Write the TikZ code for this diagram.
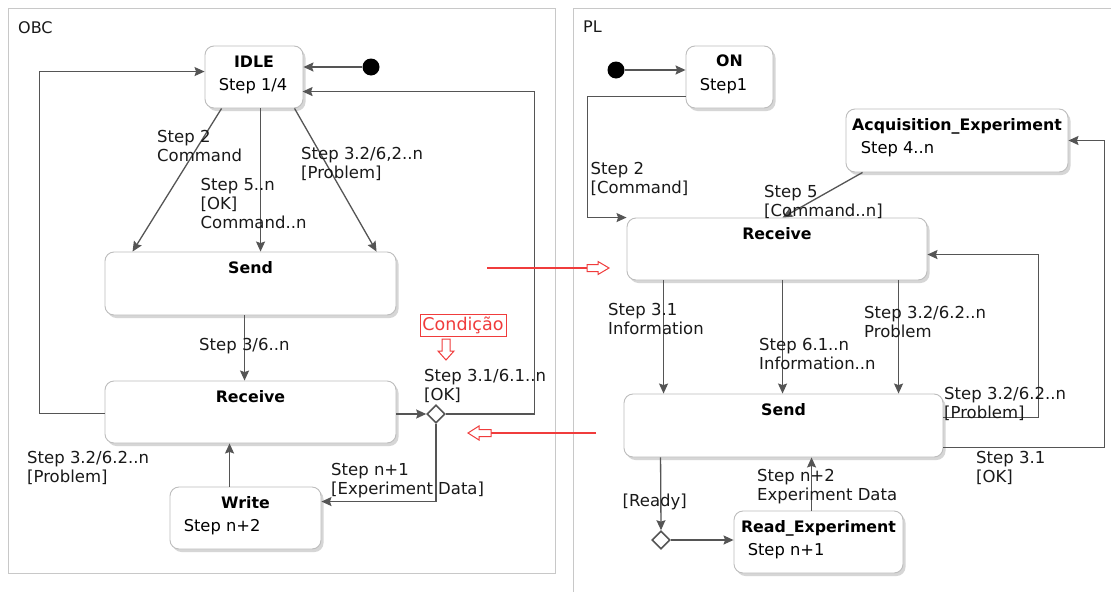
\documentclass[tikz,border=0pt]{standalone}
\usepackage{fontspec}
\setmainfont{DejaVu Sans}
\usetikzlibrary{arrows.meta,shapes.geometric,shadows,calc}
\definecolor{ln}{HTML}{555555}
\definecolor{bd}{HTML}{BDBDBD}
\definecolor{pn}{HTML}{C8C8C8}
\definecolor{rd}{HTML}{F03C3C}
\begin{document}
\begin{tikzpicture}[x=1pt,y=-1pt,
 state/.style={draw=bd, line width=0.9pt, fill=white, rounded corners=9pt,
   drop shadow={shadow xshift=2.5pt, shadow yshift=-3pt, fill=black!40, opacity=0.4}, inner sep=0},
 ttl/.style={anchor=north, inner sep=0, font=\fontsize{15.8}{19}\selectfont\bfseries},
 dsc/.style={anchor=north west, inner sep=0, font=\fontsize{16.3}{19}\selectfont},
 lbl/.style={anchor=north west, inner sep=0, align=left, font=\fontsize{16.5}{18.8}\selectfont, text=black!90},
 arr/.style={draw=ln, line width=1.3pt, -{Stealth[length=10pt,width=9pt,inset=1.5pt]}},
 choice/.style={diamond, draw=ln, line width=1.6pt, fill=white, minimum width=18pt, minimum height=18pt, inner sep=0},
 init/.style={circle, fill=black, minimum size=17pt, inner sep=0},
 panel/.style={draw=pn, line width=1pt},
 hollow/.style={draw=rd, line width=1pt, fill=white},
 redln/.style={draw=rd, line width=1.5pt}]
\useasboundingbox (0,0) rectangle (1111,592);
\fill[white] (0,0) rectangle (1111,592);

% panels
\draw[panel] (8,8) rectangle (555,573);
\draw[panel] (1111,8) -- (573,8) -- (573,592);
\node[lbl, font=\fontsize{16}{19}\selectfont] (obc) at (18,21) {OBC};
\node[lbl, font=\fontsize{16}{19}\selectfont] (pl) at (583,21) {PL};

% ---- OBC states
\node[state, minimum width=98pt, minimum height=62pt] (idle) at (254,77) {};
\node[ttl] (idlet) at ($(idle.north)+(0,10)$) {IDLE};
\node[dsc] (idled) at ($(idle.north west)+(14,32.5)$) {Step 1/4};

\node[state, minimum width=291pt, minimum height=63pt] (sendL) at (250.5,283.5) {};
\node[ttl] (sendLt) at ($(sendL.north)+(0,10)$) {Send};

\node[state, minimum width=291pt, minimum height=62pt] (recL) at (250.5,412) {};
\node[ttl] (recLt) at ($(recL.north)+(0,10)$) {Receive};

\node[state, minimum width=151pt, minimum height=62pt] (write) at (245.5,518) {};
\node[ttl] (writet) at ($(write.north)+(0,10)$) {Write};
\node[dsc] (writed) at ($(write.north west)+(14,32.5)$) {Step n+2};

\node[init] (dot1) at (371,67) {};
\node[choice] (dL) at (436,414) {};

% ---- PL states
\node[state, minimum width=87pt, minimum height=62pt] (on) at (729.5,77) {};
\node[ttl] (ont) at ($(on.north)+(0,9.5)$) {ON};
\node[dsc] (ond) at ($(on.north west)+(14,32.5)$) {Step1};

\node[state, minimum width=222pt, minimum height=63pt] (acq) at (957,140.5) {};
\node[ttl] (acqt) at ($(acq.north)+(0,9.5)$) {Acquisition\_Experiment};
\node[dsc] (acqd) at ($(acq.north west)+(15,33)$) {Step 4..n};

\node[state, minimum width=300pt, minimum height=62pt] (recR) at (777,249) {};
\node[ttl] (recRt) at ($(recR.north)+(0,9.5)$) {Receive};

\node[state, minimum width=319pt, minimum height=63pt] (sendR) at (783.5,425.5) {};
\node[ttl] (sendRt) at ($(sendR.north)+(0,10)$) {Send};

\node[state, minimum width=169pt, minimum height=62pt] (read) at (818.5,542) {};
\node[ttl] (readt) at ($(read.north)+(0,9.5)$) {Read\_Experiment};
\node[dsc] (readd) at ($(read.north west)+(14,32.5)$) {Step n+1};

\node[init] (dot2) at (616,70) {};
\node[choice] (dR) at (661,540) {};

% ---- OBC connectors
\draw[arr] (dot1) -- (dot1 -| idle.east);
\draw[arr] ($(idle.south west)+(17,0)$) -- ($(sendL.north west)+(28,0)$);
\draw[arr] ($(idle.south west)+(56,0)$) -- ($(sendL.north west)+(156,0)$);
\draw[arr] ($(idle.south west)+(90,0)$) -- ($(sendL.north west)+(272,0)$);
\draw[arr] ($(sendL.south west)+(140,0)$) -- ($(recL.north west)+(140,0)$);
\draw[arr] ($(write.north west)+(60,0)$) -- ($(recL.south west)+(125,0)$);
\draw[arr] (recL.east |- dL.west) -- (dL.west);
\draw[arr] (dL.south) |- ($(write.north east)+(0,15)$);
\draw[arr] (dL.east) -- ++(89,0) |- ($(idle.north west)+(98,46)$);
\draw[arr] ($(recL.north west)+(0,33)$) -- ++(-65,0) |- ($(idle.north west)+(0,26)$);

% ---- PL connectors
\draw[arr] (dot2) -- (dot2 -| on.west);
\draw[arr] ($(on.north west)+(0,51)$) -- ++(-98,0) |- (recR.north west);
\draw[arr] ($(acq.south west)+(17,0)$) -- ($(recR.north west)+(156,0)$);
\draw[arr] ($(recR.south west)+(37,0)$) -- ($(sendR.north west)+(40,0)$);
\draw[arr] ($(recR.south west)+(156,0)$) -- ($(sendR.north west)+(159,0)$);
\draw[arr] ($(recR.south west)+(272,0)$) -- ($(sendR.north west)+(275,0)$);
\draw[arr] ($(sendR.north east)+(0,24)$) -- ++(95,0) |- ($(recR.north east)+(0,37)$);
\draw[arr] ($(sendR.north east)+(0,54)$) -- ++(161,0) |- (acq.east);
\draw[arr] ($(sendR.south west)+(37,0)$) -- (dR.north);
\draw[arr] (dR.east) -- (dR.east -| read.west);
\draw[arr] ($(read.north west)+(78,0)$) -- ($(sendR.south west)+(188,0)$);

% ---- labels OBC
\node[lbl] (l1) at (157,130) {Step 2\\Command};
\node[lbl] (l2) at (200.5,178) {Step 5..n\\{[OK]}\\Command..n};
\node[lbl] (l3) at (301,147) {Step 3.2/6,2..n\\{[Problem]}};
\node[lbl] (l4) at (199,338) {Step 3/6..n};
\node[lbl] (l5) at (424,369) {Step 3.1/6.1..n\\{[OK]}};
\node[lbl] (l6) at (27,451) {Step 3.2/6.2..n\\{[Problem]}};
\node[lbl] (l7) at (331,463) {Step n+1\\{[Experiment Data]}};

% ---- labels PL
\node[lbl] (m1) at (590.5,162) {Step 2\\{[Command]}};
\node[lbl] (m2) at (764,185) {Step 5\\{[Command..n]}};
\node[lbl] (m3) at (608,303) {Step 3.1\\Information};
\node[lbl] (m4) at (759,338) {Step 6.1..n\\Information..n};
\node[lbl] (m5) at (864,306) {Step 3.2/6.2..n\\Problem};
\node[lbl] (m6) at (944,387) {Step 3.2/6.2..n\\{[Problem]}};
\node[lbl] (m7) at (976,451) {Step 3.1\\{[OK]}};
\node[lbl] (m8) at (622.5,494) {[Ready]};
\node[lbl] (m9) at (757,469) {Step n+2\\Experiment Data};

% ---- red annotations
\node[draw=rd, text=rd, line width=0.9pt, inner sep=0, minimum width=86pt, minimum height=22pt,
      font=\fontsize{17.5}{20}\selectfont] (cond) at (463,325) {Condição};
\draw[hollow] (442,339) -- (450,339) -- (450,351) -- (454,351) -- (446,360) -- (438,351) -- (442,351) -- cycle;
\coordinate (ra1) at (487,268);
\coordinate (ra2) at (587,268);
\draw[redln] (ra1) -- (ra2);
\draw[hollow] (587,264.5) -- (598,264.5) -- (598,261.5) -- (609,268) -- (598,274.5) -- (598,271.5) -- (587,271.5) -- cycle;
\coordinate (lb1) at (596,433);
\coordinate (lb2) at (491,433);
\draw[redln] (lb1) -- (lb2);
\draw[hollow] (491,429.5) -- (479,429.5) -- (479,426) -- (468,433) -- (479,440) -- (479,436.5) -- (491,436.5) -- cycle;
\end{tikzpicture}
\end{document}
